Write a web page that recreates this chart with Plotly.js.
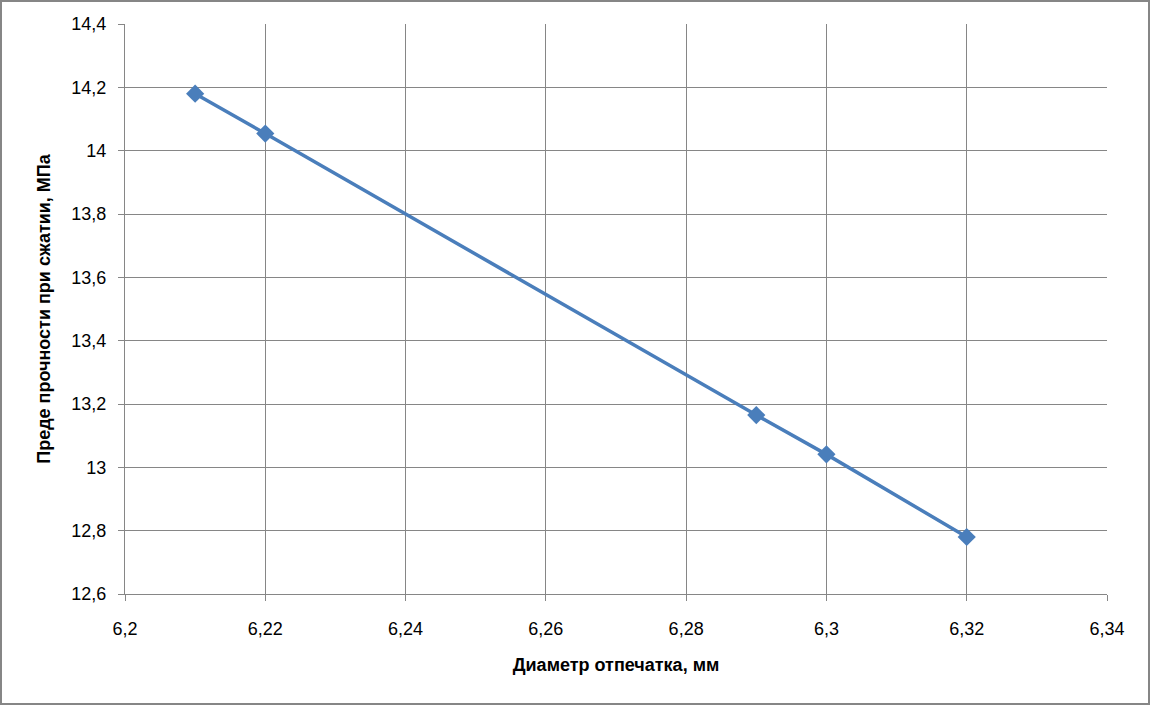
<!DOCTYPE html>
<html><head><meta charset="utf-8">
<script src="https://cdn.plot.ly/plotly-3.0.1.min.js"></script>
<style>
html,body{margin:0;padding:0;background:#fff;}
#wrap{position:relative;width:1150px;height:705px;}
#chart{width:1150px;height:705px;}
#border{position:absolute;left:0;top:0;width:1150px;height:705px;box-sizing:border-box;border:2px solid #868686;pointer-events:none;}
</style>
</head><body>
<div id="wrap"><div id="chart"></div><div id="border"></div></div>
<script>
const diameters = [6.21, 6.22, 6.29, 6.30, 6.32];
const strength = [14.18, 14.054, 13.165, 13.041, 12.78];
const xTitle = 'Диаметр отпечатка, мм';
const yTitle = 'Преде прочности при сжатии, МПа';

const fam = 'Liberation Sans, Arial, sans-serif';
const trace = {
  x: diameters, y: strength, type: 'scatter', mode: 'lines+markers',
  line: {color: '#4a7ebb', width: 3.5},
  marker: {symbol: 'diamond', size: 14, color: '#4a7ebb'},
  hoverinfo: 'none', showlegend: false
};
const layout = {
  width: 1150, height: 705,
  margin: {l: 125, r: 43, t: 24, b: 111, pad: 0},
  paper_bgcolor: '#fff', plot_bgcolor: '#fff',
  separators: ', ',
  font: {family: fam, size: 18, color: '#000'},
  xaxis: {
    range: [6.2, 6.34], dtick: 0.02, tick0: 6.2,
    showgrid: true, gridcolor: '#868686', gridwidth: 1,
    showline: true, linecolor: '#868686', linewidth: 1,
    ticks: 'outside', ticklen: 6, tickcolor: '#868686',
    ticklabelstandoff: 12,
    zeroline: false,
    tickfont: {family: fam, size: 18, color: '#000'},
    title: {text: xTitle, standoff: 20, font: {family: fam, size: 18, color: '#000', weight: 'bold'}}
  },
  yaxis: {
    range: [12.6, 14.4], dtick: 0.2, tick0: 12.6,
    showgrid: true, gridcolor: '#868686', gridwidth: 1,
    showline: true, linecolor: '#868686', linewidth: 1,
    ticks: 'outside', ticklen: 6, tickcolor: '#868686',
    ticklabelstandoff: 8,
    zeroline: false,
    tickfont: {family: fam, size: 18, color: '#000'},
    title: {text: yTitle, standoff: 16, font: {family: fam, size: 18, color: '#000', weight: 'bold'}}
  }
};
Plotly.newPlot('chart', [trace], layout, {staticPlot: true, displayModeBar: false});
</script>
</body></html>
